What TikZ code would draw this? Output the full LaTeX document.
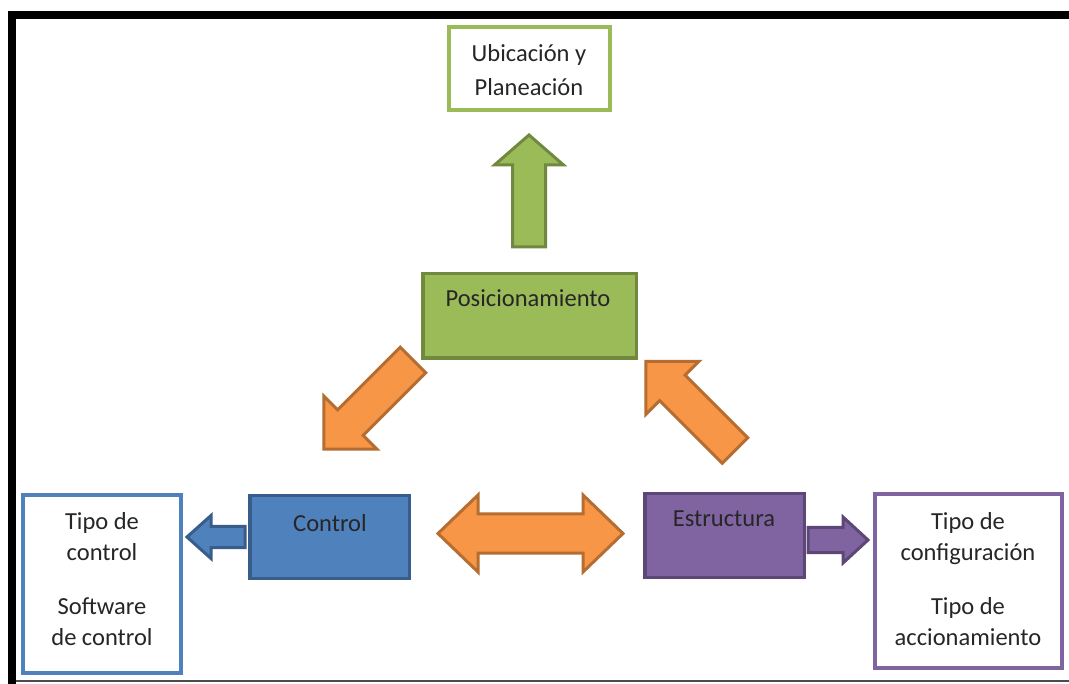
\documentclass[tikz,border=0pt]{standalone}
\usepackage{fontspec}
\setmainfont{Carlito}
\definecolor{greenF}{HTML}{9BBB59}
\definecolor{greenD}{HTML}{71893F}
\definecolor{blueF}{HTML}{4F81BD}
\definecolor{blueD}{HTML}{385D8A}
\definecolor{purpF}{HTML}{8064A2}
\definecolor{purpD}{HTML}{5C4776}
\definecolor{orangeF}{HTML}{F79646}
\definecolor{orangeD}{HTML}{B66D31}
\definecolor{txt}{HTML}{262626}
\tikzset{
  lbl/.style={font=\fontsize{24.5}{30.5}\selectfont, text=txt, align=center, inner sep=0pt},
  solidbox/.style 2 args={draw=#2, fill=#1, line width=3.5pt, inner sep=0pt},
  framebox/.style={draw=#1, fill=white, line width=4pt, inner sep=0pt},
  % single block arrow pointing along +x from its tail: length/shaft/head width/head length
  pics/blockarrow/.style args={#1/#2/#3/#4}{code={
    \path[pic actions] (0,-#2/2) -- (#1-#4,-#2/2) -- (#1-#4,-#3/2) -- (#1,0)
      -- (#1-#4,#3/2) -- (#1-#4,#2/2) -- (0,#2/2) -- cycle;
  }},
  % double block arrow centred on its position
  pics/twowayarrow/.style args={#1/#2/#3/#4}{code={
    \path[pic actions] (-#1/2,0) -- (-#1/2+#4,-#3/2) -- (-#1/2+#4,-#2/2)
      -- (#1/2-#4,-#2/2) -- (#1/2-#4,-#3/2) -- (#1/2,0) -- (#1/2-#4,#3/2)
      -- (#1/2-#4,#2/2) -- (-#1/2+#4,#2/2) -- (-#1/2+#4,#3/2) -- cycle;
  }},
  orangearrow/.style={draw=orangeD, fill=orangeF, line width=3pt},
}
\begin{document}
\begin{tikzpicture}[x=1pt, y=-1pt]
\useasboundingbox (0,0) rectangle (1069,684);
\fill[white] (0,0) rectangle (1069,684);

% frame
\fill[black] (8,11) rectangle (1069,19);
\fill[black] (8,11) rectangle (16,684);
\draw[black!70, line width=1.5pt] (16,681) -- (1069,681);

% boxes
\node[framebox=greenF, minimum width=161pt, minimum height=83pt] (ubic) at (529.5,68.5) {};
\node[lbl, font=\fontsize{24.5}{34}\selectfont] (ubictxt) at (529,70) {Ubicación y\\Planeación};

\node[solidbox={greenF}{greenD}, minimum width=213.5pt, minimum height=84.5pt] (posic) at (529.5,316) {};
\node[lbl] (posictxt) at (528,298) {Posicionamiento};

\node[solidbox={blueF}{blueD}, minimum width=159.5pt, minimum height=82.5pt] (control) at (329.5,537) {};
\node[lbl] (controltxt) at (330,523) {Control};

\node[solidbox={purpF}{purpD}, minimum width=159.5pt, minimum height=83.5pt] (estr) at (724.5,535.5) {};
\node[lbl] (estrtxt) at (724,519) {Estructura};

\node[framebox=blueF, minimum width=158pt, minimum height=178pt] (ctrlinfo) at (102,584) {};
\node[lbl] (ctrlinfotxt) at (102,579) {Tipo de\\control\\[24pt]Software\\de control};

\node[framebox=purpF, minimum width=187pt, minimum height=174pt] (estrinfo) at (968.5,581) {};
\node[lbl] (estrinfotxt) at (968,579) {Tipo de\\configuración\\[24pt]Tipo de\\accionamiento};

% block arrows
\pic[draw=greenD, fill=greenF, line width=3pt, rotate=90] at (529,247) {blockarrow={112/33/69/30}};
\pic[orangearrow, rotate=225] at (413,360) {blockarrow={126/36/75/37.5}};
\pic[orangearrow, rotate=135] at (735,450.5) {blockarrow={126/36/75/37.5}};
\pic[orangearrow] at (530.5,533.5) {twowayarrow={185/39/77/40}};
\pic[draw=blueD, fill=blueF, line width=3pt, rotate=180] at (245,537) {blockarrow={58/21/43/24}};
\pic[draw=purpD, fill=purpF, line width=3pt] at (808,540) {blockarrow={60/25/46/25}};
\end{tikzpicture}
\end{document}
